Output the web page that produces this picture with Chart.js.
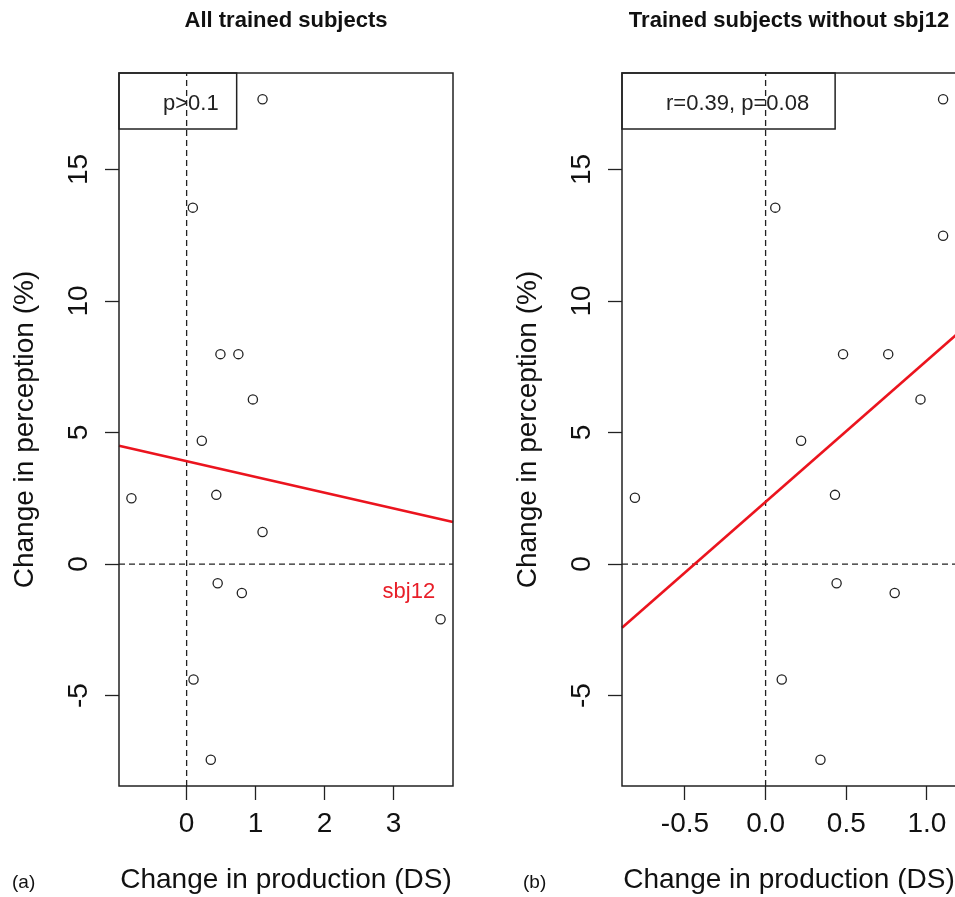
<!DOCTYPE html>
<html lang="en">
<head>
    <meta charset="UTF-8">
    <title>Change in perception vs production</title>
    <script src="https://cdn.jsdelivr.net/npm/chart.js"></script>
    <style>
        html, body { margin: 0; padding: 0; background: #fff; overflow: hidden; width: 955px; height: 897px; }
        .panel { position: absolute; top: 0; width: 500px; height: 897px; }
        #panelA { left: 0; }
        #panelB { left: 500px; }
        .tag { position: absolute; top: 871px; font: 19px "Liberation Sans", Arial, sans-serif; color: #111; }
    </style>
</head>
<body>
    <div class="panel" id="panelA"><canvas id="chartA" width="500" height="897"></canvas></div>
    <div class="panel" id="panelB"><canvas id="chartB" width="500" height="897"></canvas></div>
    <div class="tag" style="left:12px">(a)</div>
    <div class="tag" style="left:523px">(b)</div>
    <script>
        // Panel (a): all trained subjects
        var xAll = [1.10, 0.09, 0.49, 0.75, 0.96, 0.22, -0.80, 0.43, 1.10, 0.45, 0.80, 3.68, 0.10, 0.35];
        var yAll = [17.67, 13.55, 7.98, 7.98, 6.26, 4.69, 2.50, 2.63, 1.22, -0.73, -1.10, -2.10, -4.39, -7.44];
        var fitAllX = [-0.98, 3.86];
        var fitAllY = [4.50, 1.60];
        var xTicksA = [0, 1, 2, 3];
        var xLabelsA = ['0', '1', '2', '3'];

        // Panel (b): trained subjects without sbj12
        var xNo12 = [1.10, 0.06, 0.48, 0.76, 0.96, 0.22, -0.81, 0.43, 1.10, 0.44, 0.80, 0.10, 0.34];
        var yNo12 = [17.67, 13.55, 7.98, 7.98, 6.26, 4.69, 2.52, 2.63, 12.48, -0.73, -1.10, -4.39, -7.44];
        var fitNo12X = [-0.89, 1.18];
        var fitNo12Y = [-2.42, 8.71];
        var xTicksB = [-0.5, 0, 0.5, 1.0];
        var xLabelsB = ['-0.5', '0.0', '0.5', '1.0'];

        var yTicks = [-5, 0, 5, 10, 15];
        var yLabels = ['-5', '0', '5', '10', '15'];
        var yRange = [-8.44, 18.67];

        var FONT = '"Liberation Sans", Arial, sans-serif';

        function pairs(xs, ys) {
            return xs.map(function (x, i) { return { x: x, y: ys[i] }; });
        }

        // box around plot area + legend box (drawn before the dashed lines)
        var framePlugin = {
            id: 'frame',
            beforeDatasetsDraw: function (chart) {
                var ctx = chart.ctx, a = chart.chartArea;
                var lg = chart.options.plugins.frame;
                ctx.save();
                ctx.font = '22px ' + FONT;
                var w = ctx.measureText(lg.text).width + 44 + lg.pad;
                ctx.fillStyle = '#fff';
                ctx.fillRect(a.left, a.top, w, 56);
                ctx.strokeStyle = '#222';
                ctx.lineWidth = 1.5;
                ctx.strokeRect(a.left, a.top, w, 56);
                ctx.fillStyle = '#222';
                ctx.textBaseline = 'middle';
                ctx.textAlign = 'left';
                ctx.fillText(lg.text, a.left + 44, a.top + 31);
                ctx.restore();
            },
            afterDatasetsDraw: function (chart) {
                var ctx = chart.ctx, a = chart.chartArea;
                var lg = chart.options.plugins.frame;
                ctx.save();
                ctx.strokeStyle = '#222';
                ctx.lineWidth = 1.5;
                ctx.strokeRect(a.left, a.top, a.right - a.left, a.bottom - a.top);
                if (lg.note) {
                    ctx.font = '22px ' + FONT;
                    ctx.fillStyle = 'rgb(232,30,40)';
                    ctx.textAlign = 'center';
                    ctx.textBaseline = 'middle';
                    ctx.fillText(lg.note.text, chart.scales.x.getPixelForValue(lg.note.x), chart.scales.y.getPixelForValue(lg.note.y));
                }
                ctx.restore();
            }
        };

        function makeChart(id, cfg) {
            var ctx = document.getElementById(id).getContext('2d');
            return new Chart(ctx, {
                type: 'scatter',
                data: {
                    datasets: [{
                        data: pairs(cfg.xs, cfg.ys),
                        pointStyle: 'circle',
                        pointRadius: 4.6,
                        borderColor: '#222',
                        borderWidth: 1.3,
                        backgroundColor: 'rgba(0,0,0,0)'
                    }, {
                        type: 'line',
                        data: pairs(cfg.fitX, cfg.fitY),
                        borderColor: 'rgb(235,20,30)',
                        borderWidth: 2.6,
                        pointRadius: 0,
                        fill: false
                    }, {
                        type: 'line',
                        data: [{ x: 0, y: yRange[0] }, { x: 0, y: yRange[1] }],
                        borderColor: '#222',
                        borderWidth: 1.3,
                        borderDash: [6, 4],
                        pointRadius: 0
                    }, {
                        type: 'line',
                        data: [{ x: cfg.xMin, y: 0 }, { x: cfg.xMax, y: 0 }],
                        borderColor: '#222',
                        borderWidth: 1.3,
                        borderDash: [6, 4],
                        pointRadius: 0
                    }]
                },
                options: {
                    responsive: false,
                    animation: false,
                    clip: false,
                    layout: { padding: { left: 0, right: cfg.padRight, top: 0, bottom: 0 } },
                    plugins: {
                        legend: { display: false },
                        tooltip: { enabled: false },
                        title: {
                            display: true,
                            text: cfg.title,
                            fullSize: false,
                            color: '#111',
                            font: { family: FONT, size: 22, weight: 'bold' },
                            padding: { top: 8, bottom: 38.6 }
                        },
                        frame: { text: cfg.legend, pad: cfg.legendPad, note: cfg.note }
                    },
                    scales: {
                        x: {
                            type: 'linear',
                            min: cfg.xMin,
                            max: cfg.xMax,
                            afterBuildTicks: function (s) { s.ticks = cfg.xTicks.map(function (v) { return { value: v }; }); },
                            afterFit: function (s) { s.height = 111; },
                            ticks: {
                                callback: function (v) { return cfg.xLabels[cfg.xTicks.indexOf(v)]; },
                                color: '#111',
                                font: { family: FONT, size: 28 },
                                padding: 7,
                                maxRotation: 0
                            },
                            grid: { display: true, drawOnChartArea: false, drawTicks: true, tickLength: 14, tickColor: '#222', tickWidth: 1.3 },
                            border: { display: false },
                            title: { display: true, text: 'Change in production (DS)', color: '#111', font: { family: FONT, size: 28 }, padding: { top: 0, bottom: 0 } }
                        },
                        y: {
                            type: 'linear',
                            min: yRange[0],
                            max: yRange[1],
                            afterBuildTicks: function (s) { s.ticks = yTicks.map(function (v) { return { value: v }; }); },
                            afterFit: function (s) { s.width = cfg.yWidth; },
                            ticks: {
                                callback: function (v) { return yLabels[yTicks.indexOf(v)]; },
                                color: '#111',
                                font: { family: FONT, size: 28 },
                                padding: 10,
                                minRotation: 90,
                                maxRotation: 90,
                                crossAlign: 'center'
                            },
                            grid: { display: true, drawOnChartArea: false, drawTicks: true, tickLength: 14, tickColor: '#222', tickWidth: 1.3 },
                            border: { display: false },
                            title: { display: true, text: 'Change in perception (%)', color: '#111', font: { family: FONT, size: 28 }, padding: { top: cfg.yTitlePad, bottom: 0 } }
                        }
                    }
                },
                plugins: [framePlugin]
            });
        }

        makeChart('chartA', {
            xs: xAll, ys: yAll, fitX: fitAllX, fitY: fitAllY,
            xMin: -0.98, xMax: 3.86, xTicks: xTicksA, xLabels: xLabelsA,
            title: 'All trained subjects', legend: 'p>0.1', legendPad: 18,
            note: { text: 'sbj12', x: 3.22, y: -1.07 },
            padRight: 47, yWidth: 119, yTitlePad: 8
        });

        makeChart('chartB', {
            xs: xNo12, ys: yNo12, fitX: fitNo12X, fitY: fitNo12Y,
            xMin: -0.89, xMax: 1.18, xTicks: xTicksB, xLabels: xLabelsB,
            title: 'Trained subjects without sbj12', legend: 'r=0.39, p=0.08', legendPad: 26,
            note: null,
            padRight: 44, yWidth: 122, yTitlePad: 11
        });
    </script>
</body>
</html>
